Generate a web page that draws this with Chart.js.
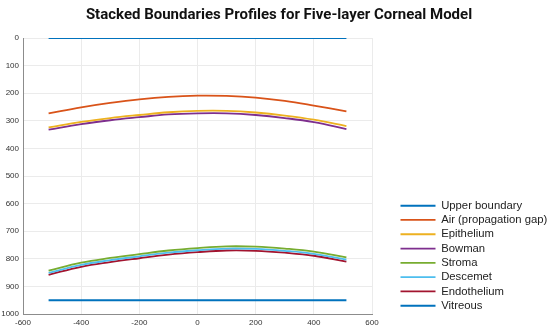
<!DOCTYPE html>
<html lang="en">
<head>
    <meta charset="UTF-8">
    <title>Stacked Boundaries Profiles</title>
    <script src="https://cdn.jsdelivr.net/npm/chart.js"></script>
    <style>
        html, body { margin: 0; padding: 0; background: #fff; }
        #wrap { width: 554px; height: 327px; }
    </style>
</head>
<body>
    <div id="wrap"><canvas id="profileChart"></canvas></div>
    <script>
        // lateral position (x) and depth of each boundary (y)
        const xPos       = [-512, -400, -300, -200, -100, 0, 100, 200, 300, 400, 512];
        const upper      = [0, 0, 0, 0, 0, 0, 0, 0, 0, 0, 0];
        const air        = [273, 251, 235, 222, 213, 209, 210, 216, 228, 245, 266];
        const epithelium = [324, 304, 290, 279, 269, 264, 264, 270, 281, 296, 319];
        const bowman     = [332, 312, 298, 287, 277, 273, 273, 279, 290, 305, 330];
        const stroma     = [843, 814, 797, 783, 770, 761, 755, 756, 763, 774, 795];
        const descemet   = [851, 822, 805, 791, 778, 769, 763, 764, 771, 782, 803];
        const endothel   = [858, 829, 812, 798, 785, 776, 770, 771, 778, 789, 810];
        const vitreous   = [950, 950, 950, 950, 950, 950, 950, 950, 950, 950, 950];

        const labels = ["Upper boundary", "Air (propagation gap)", "Epithelium", "Bowman",
                        "Stroma", "Descemet", "Endothelium", "Vitreous"];
        const series = [upper, air, epithelium, bowman, stroma, descemet, endothel, vitreous];
        const colors = ["#0072BD", "#D95319", "#EDB120", "#7E2F8E",
                        "#77AC30", "#4DBEEE", "#A2142F", "#0072BD"];

        function toPoints(ys) {
            return xPos.map((x, i) => ({ x: x, y: ys[i] }));
        }

        const datasets = series.map((ys, i) => ({
            label: labels[i],
            data: toPoints(ys),
            borderColor: colors[i],
            backgroundColor: colors[i],
            borderWidth: (i === 0 || i === 7) ? 2 : 1.8,
            pointRadius: 0,
            tension: 0.4,
            fill: false
        }));

        // legend sits off to the right of the plot and the title is centred on the page
        const placeBlocks = {
            id: "placeBlocks",
            afterLayout(chart) {
                const lg = chart.legend;
                if (lg) {
                    const w = lg.width;
                    lg.left = 397.5;
                    lg.right = lg.left + w;
                    lg.top = 197;
                }
                const tb = chart.titleBlock;
                if (tb) {
                    tb.left = 0;
                    tb.right = 558;
                }
            }
        };

        const tickFont = { family: "Liberation Sans", size: 8 };
        const plain = v => String(v);

        new Chart(document.getElementById("profileChart"), {
            type: "line",
            data: { datasets: datasets },
            options: {
                responsive: true,
                maintainAspectRatio: false,
                animation: false,
                layout: { padding: { left: 0, right: 32, top: 0, bottom: 0 } },
                plugins: {
                    title: {
                        display: true,
                        text: "Stacked Boundaries Profiles for Five-layer Corneal Model",
                        color: "#111",
                        font: { family: "Roboto", size: 15, weight: "bold" },
                        padding: { top: 6, bottom: 14 }
                    },
                    legend: {
                        position: "right",
                        align: "start",
                        maxWidth: 150,
                        labels: {
                            usePointStyle: true,
                            pointStyle: "line",
                            pointStyleWidth: 35,
                            padding: 3,
                            color: "#222",
                            font: { family: "Liberation Sans", size: 11.3 }
                        }
                    },
                    tooltip: { enabled: false }
                },
                scales: {
                    x: {
                        type: "linear",
                        min: -600,
                        max: 600,
                        ticks: { stepSize: 200, color: "#333", font: tickFont, padding: 4, maxRotation: 0, callback: plain },
                        grid: { color: "#ebebeb", drawTicks: false },
                        border: { color: "#8c8c8c" },
                        afterFit(scale) { scale.height = 13; }
                    },
                    y: {
                        reverse: true,
                        min: 0,
                        max: 1000,
                        ticks: { stepSize: 100, color: "#333", font: tickFont, padding: 4, callback: plain },
                        grid: { color: "#ebebeb", drawTicks: false },
                        border: { color: "#8c8c8c" },
                        afterFit(scale) { scale.width = 23; }
                    }
                }
            },
            plugins: [placeBlocks]
        });
    </script>
</body>
</html>
